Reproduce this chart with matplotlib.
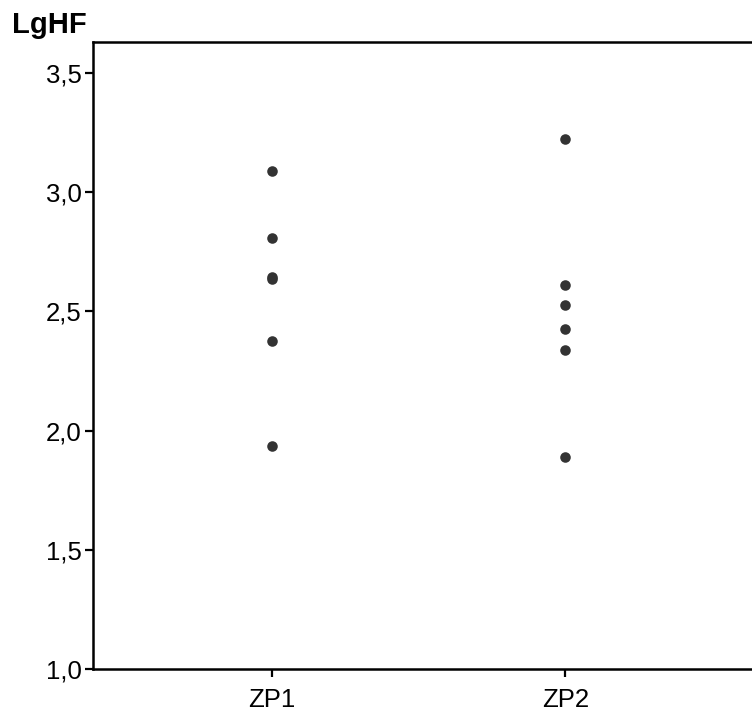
import matplotlib
matplotlib.use("Agg")
import matplotlib.pyplot as plt

plt.rcParams['font.family'] = ['Liberation Sans', 'DejaVu Sans']

# --- Data ---
groups = ["ZP1", "ZP2"]
zp1_vals = [3.088, 2.809, 2.645, 2.635, 2.375, 1.935]
zp2_vals = [3.222, 2.611, 2.527, 2.426, 2.338, 1.891]
y_ticks = [1.0, 1.5, 2.0, 2.5, 3.0, 3.5]
y_tick_labels = ["1,0", "1,5", "2,0", "2,5", "3,0", "3,5"]

# --- Figure ---
fig = plt.figure(figsize=(7.52, 7.18), dpi=100)
ax = fig.add_axes([93 / 752, 1 - 669 / 718, 1 - 93 / 752, (669 - 41.5) / 718])

for i, vals in enumerate([zp1_vals, zp2_vals]):
    ax.plot([i] * len(vals), vals, 'o', color='#333333', markersize=7.6,
            markeredgewidth=0, linestyle='none')

ax.set_xlim(-0.611, 1.637)
ax.set_ylim(1.0, 3.632)
ax.set_xticks(range(len(groups)))
ax.set_xticklabels(groups)
ax.set_yticks(y_ticks)
ax.set_yticklabels(y_tick_labels)

for side in ['left', 'bottom', 'top']:
    ax.spines[side].set_linewidth(1.8)
ax.spines['right'].set_visible(False)
ax.tick_params(axis='both', length=6, width=1.6, labelsize=18.5, colors='black')
ax.tick_params(axis='x', pad=8)
ax.tick_params(axis='y', pad=2)

fig.text(12 / 752, 1 - 33 / 718, "LgHF", fontsize=21, fontweight='bold',
         ha='left', va='baseline')

fig.savefig("out.png", dpi=100)
